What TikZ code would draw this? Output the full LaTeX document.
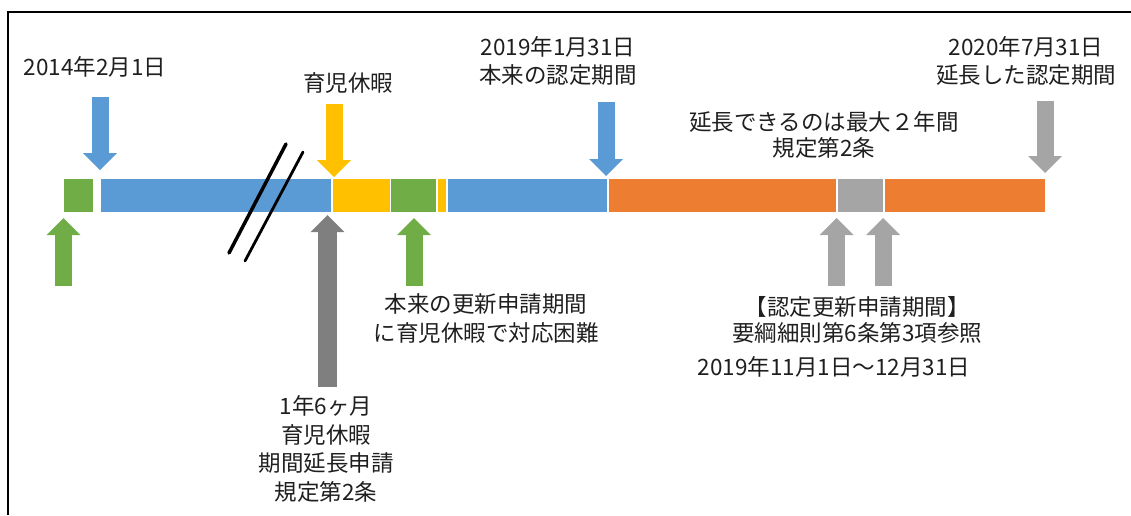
\documentclass[tikz,border=0pt]{standalone}
\usepackage{fontspec}
\setmainfont{Noto Sans CJK JP}
\usetikzlibrary{arrows.meta}

\definecolor{segblue}{HTML}{5B9BD5}
\definecolor{segorange}{HTML}{ED7D31}
\definecolor{seggray}{HTML}{A5A5A5}
\definecolor{segdark}{HTML}{7F7F7F}
\definecolor{segyellow}{HTML}{FFC000}
\definecolor{seggreen}{HTML}{70AD47}

\tikzset{
  seg/.style={rectangle, draw=white, line width=1pt, minimum height=34pt, inner sep=0pt},
  blockarrow/.style={line width=17pt, -{Triangle[width=34pt,length=17pt,line width=0pt]}},
  lbl/.style={align=center, font=\fontsize{22.5}{28.5}\selectfont, text=black!88, inner sep=0pt},
}

\begin{document}
\begin{tikzpicture}[x=1pt,y=-1pt]
    \useasboundingbox (0,0) rectangle (1131,515);
    % Frame
    \draw[line width=2.5pt] (8,515) -- (8,12) -- (1131,12);

    % Bar segments
    \node[seg, fill=seggreen, minimum width=30pt] (g1) at (78,195) {};
    \node[seg, fill=segblue, minimum width=231pt] (b1) at (215.5,195) {};
    \node[seg, fill=segyellow, minimum width=58pt] (y1) at (361,195) {};
    \node[seg, fill=seggreen, minimum width=46pt] (g2) at (413,195) {};
    \node[seg, fill=segyellow, minimum width=9pt] (y2) at (441.5,195) {};
    \node[seg, fill=segblue, minimum width=160pt] (b2) at (527,195) {};
    \node[seg, fill=segorange, minimum width=228pt] (o1) at (722,195) {};
    \node[seg, fill=seggray, minimum width=46pt] (gr) at (860,195) {};
    \node[seg, fill=segorange, minimum width=161pt] (o2) at (964.5,195) {};

    % Break marks
    \draw[line width=3.5pt, line cap=round] (229,253) -- (286,144);
    \draw[line width=2.8pt, line cap=round] (245,261) -- (303,152);

    % Arrow tails
    \coordinate (tStart) at (100,97);
    \coordinate (tLeave) at (334,104);
    \coordinate (tEnd) at (606,102);
    \coordinate (tExt) at (1045,101);
    \coordinate (tApp1) at (63.5,286);
    \coordinate (tReq) at (327.5,387);
    \coordinate (tApp2) at (414,286);
    \coordinate (tRen1) at (836.5,286);
    \coordinate (tRen2) at (883,286);

    % Arrows down
    \draw[blockarrow, segblue, shorten >=7.5pt] (tStart) -- (tStart |- b1.north);
    \draw[blockarrow, segyellow, shorten >=0.5pt] (tLeave) -- (tLeave |- y1.north);
    \draw[blockarrow, segblue, shorten >=1.5pt] (tEnd) -- (tEnd |- b2.north);
    \draw[blockarrow, seggray, shorten >=4.5pt] (tExt) -- (tExt |- o2.north);
    % Arrows up
    \draw[blockarrow, seggreen, shorten >=5.5pt] (tApp1) -- (tApp1 |- g1.south);
    \draw[blockarrow, segdark, line width=19pt, shorten >=2.5pt] (tReq) -- (tReq |- b1.south);
    \draw[blockarrow, seggreen, shorten >=5.5pt] (tApp2) -- (tApp2 |- g2.south);
    \draw[blockarrow, seggray, shorten >=5.5pt] (tRen1) -- (tRen1 |- gr.south);
    \draw[blockarrow, seggray, shorten >=5.5pt] (tRen2) -- (tRen2 |- gr.south);

    % Labels
    \node[lbl] (l2014) at (95,67) {2014年2月1日};
    \node[lbl] (lLeave) at (348,83) {育児休暇};
    \node[lbl] (lEnd) at (558,61) {2019年1月31日\\本来の認定期間};
    \node[lbl] (lMax) at (824,135) {延長できるのは最大２年間\\[-3pt]規定第2条};
    \node[lbl] (lExt) at (1026,61) {2020年7月31日\\延長した認定期間};
    \node[lbl] (lApp) at (486,318.5) {本来の更新申請期間\\に育児休暇で対応困難};
    \node[lbl] (lReq) at (326,449) {1年6ヶ月\\育児休暇\\期間延長申請\\規定第2条};
    \node[lbl] (lRen) at (857,320) {【認定更新申請期間】\\[-2.5pt]要綱細則第6条第3項参照};
    \node[lbl] (lRange) at (834,367) {2019年11月1日～12月31日};
\end{tikzpicture}
\end{document}
